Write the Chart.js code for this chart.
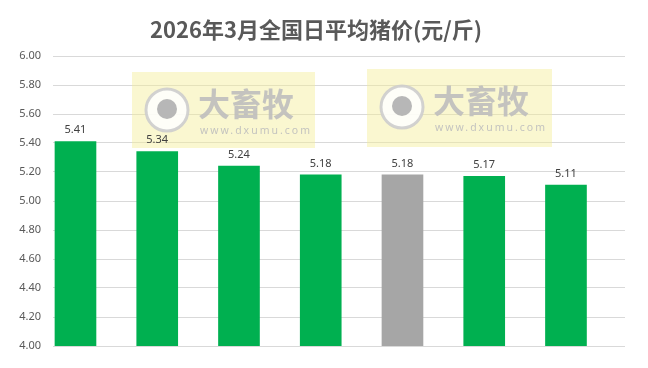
<!DOCTYPE html>
<html>
<head>
<meta charset="utf-8">
<script src="https://cdn.jsdelivr.net/npm/chart.js@4/dist/chart.umd.min.js"></script>
<style>
  html, body { margin: 0; padding: 0; background: #fff; }
  canvas { display: block; }
</style>
</head>
<body>
<canvas id="c" width="648" height="368"></canvas>
<script>
// 2026年3月全国日平均猪价 - bar chart

const days = ['1', '2', '3', '4', '5', '6', '7'];
const prices = [5.41, 5.34, 5.24, 5.18, 5.18, 5.17, 5.11];
const barColors = ['#00b050', '#00b050', '#00b050', '#00b050', '#a6a6a6', '#00b050', '#00b050'];
const yTicks = [4.0, 4.2, 4.4, 4.6, 4.8, 5.0, 5.2, 5.4, 5.6, 5.8, 6.0];

const FONT = '"Noto Sans", "Noto Sans CJK SC", sans-serif';

// title + value labels + watermark boxes
const decorPlugin = {
  id: 'decor',
  beforeDatasetsDraw(chart) {
    const ctx = chart.ctx;
    const boxes = [[132, 72, 183, 76], [367, 69, 185, 78]];
    ctx.save();
    boxes.forEach(([x, y, w, h]) => {
      ctx.fillStyle = 'rgba(245, 238, 150, 0.45)';
      ctx.fillRect(x, y, w, h);
      // round logo
      ctx.beginPath();
      ctx.arc(x + 35, y + 38, 21, 0, Math.PI * 2);
      ctx.fillStyle = 'rgba(255,255,255,0.85)';
      ctx.fill();
      ctx.lineWidth = 3;
      ctx.strokeStyle = 'rgba(205,205,205,0.9)';
      ctx.stroke();
      ctx.beginPath();
      ctx.arc(x + 35, y + 37, 10, 0, Math.PI * 2);
      ctx.fillStyle = 'rgba(175,175,175,0.9)';
      ctx.fill();
      ctx.fillStyle = 'rgba(190,190,190,0.9)';
      ctx.font = 'bold 32px "Noto Sans CJK SC"';
      ctx.textAlign = 'left';
      ctx.textBaseline = 'middle';
      ctx.fillText('大畜牧', x + 66, y + 32);
      ctx.font = '10.5px ' + FONT;
      ctx.letterSpacing = '2px';
      ctx.fillText('www.dxumu.com', x + 68, y + 59);
      ctx.letterSpacing = '0px';
    });
    ctx.restore();
  },
  afterDatasetsDraw(chart) {
    const ctx = chart.ctx;
    const meta = chart.getDatasetMeta(0);
    ctx.save();
    ctx.fillStyle = '#404040';
    ctx.font = '11px ' + FONT;
    ctx.textAlign = 'center';
    ctx.textBaseline = 'bottom';
    meta.data.forEach((bar, i) => {
      ctx.fillText(prices[i].toFixed(2), bar.x, bar.y - 6);
    });
    // title
    ctx.fillStyle = '#595959';
    ctx.font = 'bold 22px "Noto Sans CJK SC"';
    ctx.textBaseline = 'middle';
    ctx.fillText('2026年3月全国日平均猪价(元/斤)', 316, 30);
    ctx.restore();
  }
};

new Chart(document.getElementById('c'), {
  type: 'bar',
  data: {
    labels: days,
    datasets: [{
      data: prices.map((v, i) => ({ x: i, y: v })),
      backgroundColor: barColors,
      borderWidth: 0,
      barThickness: 41
    }]
  },
  options: {
    responsive: false,
    animation: false,
    layout: { padding: { top: 56, bottom: 22, left: 0, right: 23 } },
    plugins: {
      legend: { display: false },
      title: { display: false },
      tooltip: { enabled: false }
    },
    scales: {
      x: {
        type: 'linear',
        min: -0.275,
        max: 6.722,
        offset: false,
        afterFit(scale) { scale.height = 0; },
        grid: { display: false },
        border: { display: false },
        ticks: { display: false }
      },
      y: {
        min: 4,
        max: 6,
        afterFit(scale) { scale.width = 53; },
        afterBuildTicks(scale) { scale.ticks = yTicks.map(v => ({ value: v })); },
        grid: { color: '#d9d9d9', drawTicks: false },
        border: { display: false },
        ticks: {
          padding: 12,
          color: '#595959',
          font: { family: FONT, size: 11 },
          callback: v => v.toFixed(2)
        }
      }
    }
  },
  plugins: [decorPlugin]
});
</script>
</body>
</html>
